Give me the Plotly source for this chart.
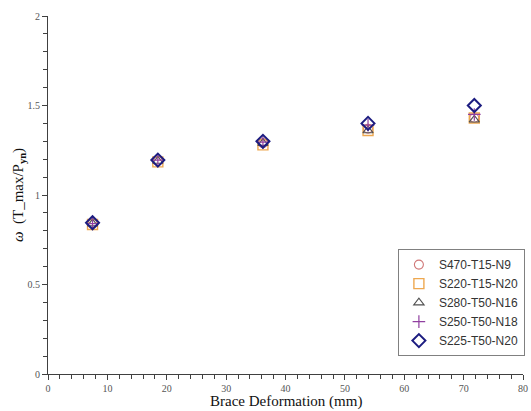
import plotly.graph_objects as go

deformation = [7.5, 18.5, 36.2, 53.9, 71.8]
series_names = ["S470-T15-N9", "S220-T15-N20", "S280-T50-N16", "S250-T50-N18", "S225-T50-N20"]
s470 = [0.84, 1.19, 1.29, 1.37, 1.43]
s220 = [0.835, 1.185, 1.28, 1.36, 1.43]
s280 = [0.84, 1.19, 1.29, 1.36, 1.42]
s250 = [0.84, 1.195, 1.295, 1.39, 1.45]
s225 = [0.845, 1.195, 1.30, 1.40, 1.50]

x_ticks = [0, 10, 20, 30, 40, 50, 60, 70, 80]
y_ticks = [0, 0.5, 1, 1.5, 2]
y_tick_text = ["0", "0.5", "1", "1.5", "2"]
x_title = "Brace Deformation (mm)"
y_title = "<i>ω</i>  (T_max/P<sub><b>yn</b></sub>)"

styles = [
    dict(symbol="circle-open", color="#d07878", size=9, lw=1.1),
    dict(symbol="square-open", color="#eea850", size=10, lw=1.4),
    dict(symbol="triangle-up-open", color="#505050", size=9, lw=1.1),
    dict(symbol="cross-thin-open", color="#9040a0", size=9, lw=1.2),
    dict(symbol="diamond-open", color="#1c1c80", size=10, lw=2),
]

fig = go.Figure()
for name, vals, st in zip(series_names, [s470, s220, s280, s250, s225], styles):
    fig.add_trace(go.Scatter(
        x=deformation, y=vals, mode="markers", name=name,
        marker=dict(symbol=st["symbol"], size=st["size"], color=st["color"],
                    line=dict(color=st["color"], width=st["lw"])),
    ))

W, H = 531, 411
ML, MR, MT, MB = 48, 6, 16, 37
pw, ph = W - ML - MR, H - MT - MB

axis_font = dict(family="Liberation Serif", size=10, color="#555555")
fig.update_layout(
    width=W, height=H,
    margin=dict(l=ML, r=MR, t=MT, b=MB),
    paper_bgcolor="white", plot_bgcolor="white",
    showlegend=True,
    legend=dict(
        x=1.004, xanchor="right", y=0.05, yanchor="bottom",
        bordercolor="#808080", borderwidth=1, bgcolor="white",
        font=dict(family="Liberation Sans", size=12, color="#333333"),
        itemsizing="trace", tracegroupgap=0, itemwidth=30,
    ),
    xaxis=dict(
        range=[0, 80], tickvals=x_ticks, showgrid=False, zeroline=False,
        showline=True, linecolor="#404040", linewidth=1, automargin=False,
        ticks="outside", ticklen=5, tickcolor="#404040",
        minor=dict(dtick=2, ticks="outside", ticklen=4, tickcolor="#404040"),
        tickfont=axis_font,
    ),
    yaxis=dict(
        range=[0, 2], tickvals=y_ticks, ticktext=y_tick_text, showgrid=False, zeroline=False,
        showline=True, linecolor="#404040", linewidth=1, automargin=False,
        ticks="outside", ticklen=5, tickcolor="#404040",
        minor=dict(dtick=0.1, ticks="outside", ticklen=4, tickcolor="#404040"),
        tickfont=axis_font,
    ),
    annotations=[
        dict(text=x_title, xref="paper", yref="paper", x=0.5, y=-(401 - (H - MB)) / ph,
             xanchor="center", yanchor="middle", showarrow=False,
             font=dict(family="Liberation Serif", size=15, color="#111111")),
        dict(text=y_title, xref="paper", yref="paper", x=-(ML - 19) / pw, y=0.5,
             xanchor="center", yanchor="middle", showarrow=False, textangle=-90,
             font=dict(family="Liberation Serif", size=15, color="#111111")),
    ],
)

fig.write_html("out.html")
